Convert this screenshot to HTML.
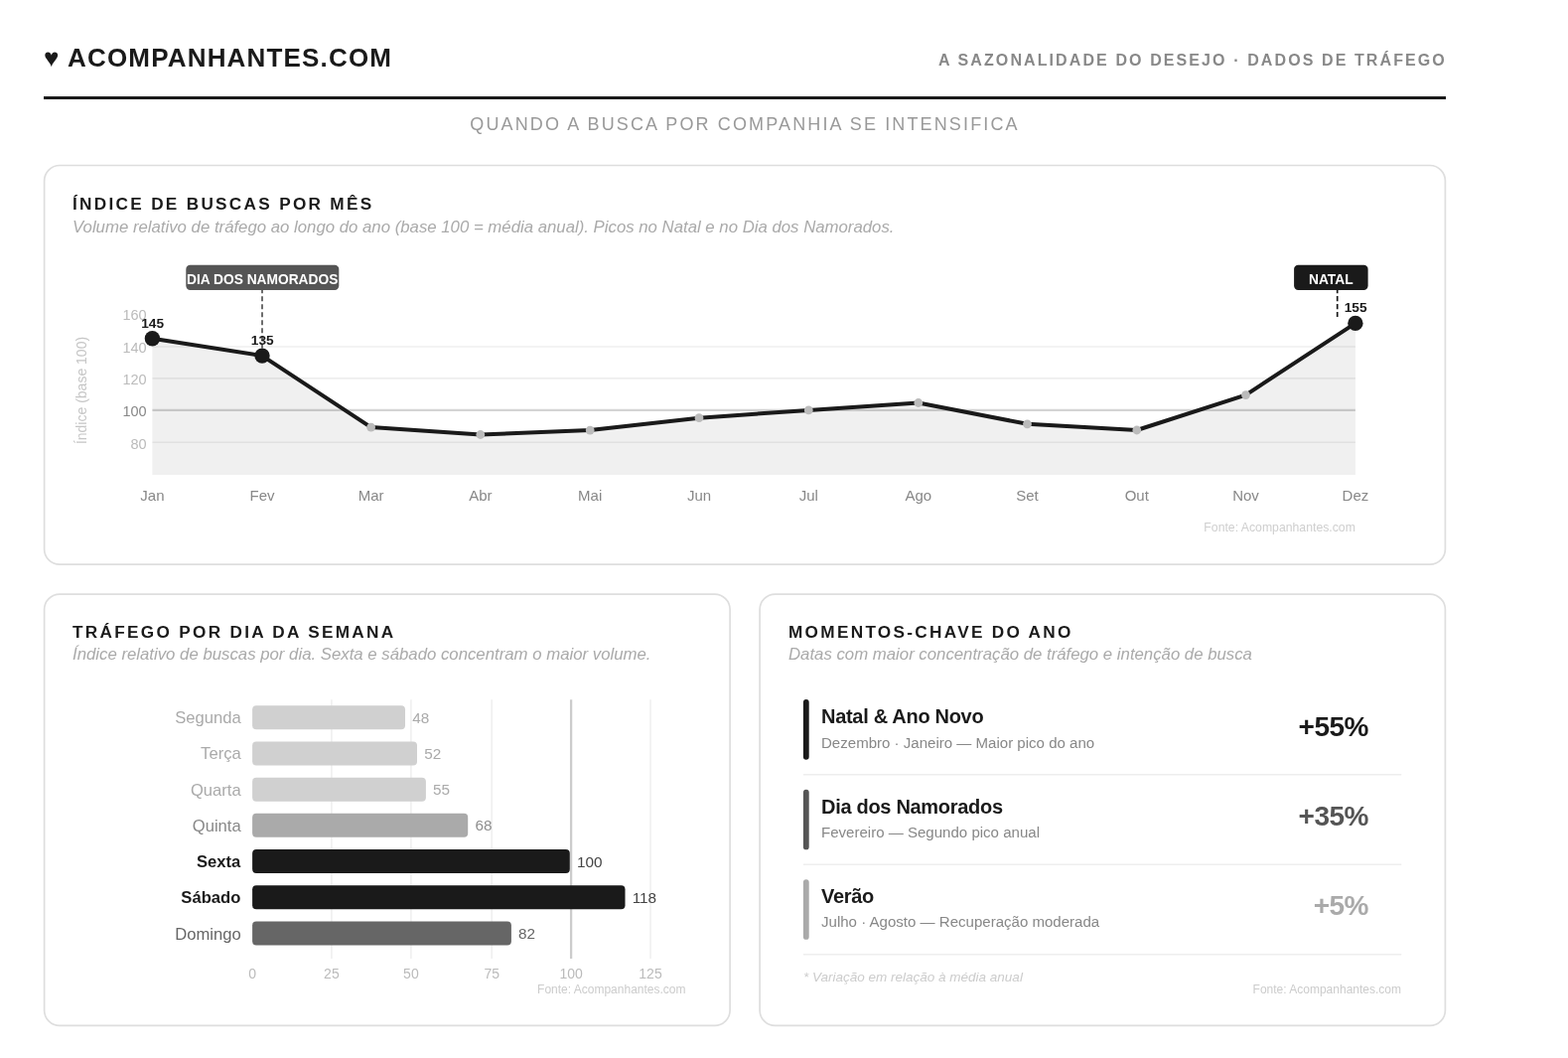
<!DOCTYPE html>
<html lang="pt-BR"><head><meta charset="utf-8"><title>A Sazonalidade do Desejo</title>
<style>
html,body{margin:0;padding:0;background:#fff;}
body{width:1579px;height:1065px;position:relative;overflow:hidden;font-family:"Liberation Sans",sans-serif;color:#1a1a1a;}
.abs{position:absolute;white-space:nowrap;line-height:1;}
.logo{left:44px;top:45.3px;font-size:26px;font-weight:700;letter-spacing:1.17px;}
.tag{right:122.1px;top:53px;font-size:16px;font-weight:700;letter-spacing:2.1px;color:#888;}
.rule{position:absolute;left:44px;top:97px;width:1412px;height:3px;background:#1a1a1a;}
.sub{left:44px;width:1412px;text-align:center;top:116.3px;font-size:18px;letter-spacing:2.13px;color:#999;}
.card{position:absolute;border:2px solid #e4e4e4;border-radius:16px;box-sizing:border-box;background:#fff;}
.h{font-size:17.2px;font-weight:700;letter-spacing:2.3px;color:#1a1a1a;}
.d{font-size:16.78px;font-style:italic;color:#aaa;}
.it{font-size:20px;font-weight:700;letter-spacing:-0.3px;}
.is{font-size:15.05px;color:#888;}
.iv{font-size:28px;font-weight:700;letter-spacing:-0.5px;}
.bar{position:absolute;left:809px;width:5px;height:61px;border-radius:3px;}
.sep{position:absolute;left:809px;width:602px;height:2px;background:#f0f0f0;}
svg text{font-family:"Liberation Sans",sans-serif;}
</style></head><body>
<div class="abs logo">♥ ACOMPANHANTES.COM</div>
<div class="abs tag">A SAZONALIDADE DO DESEJO · DADOS DE TRÁFEGO</div>
<div class="rule"></div>
<div class="abs sub">QUANDO A BUSCA POR COMPANHIA SE INTENSIFICA</div>
<svg width="1579" height="1065" viewBox="0 0 1579 1065" style="position:absolute;left:0;top:0">
<g fill="#fff" stroke="#dedede" stroke-width="1.7">
<rect x="44.6" y="166.5" width="1410.8" height="401.7" rx="15.5"/>
<rect x="44.6" y="598.1" width="690.5" height="434.3" rx="15.5"/>
<rect x="765.1" y="598.1" width="690.3" height="434.3" rx="15.5"/>
</g></svg>
<div class="abs h" style="left:73px;top:197.4px">ÍNDICE DE BUSCAS POR MÊS</div>
<div class="abs d" style="left:73px;top:220.6px">Volume relativo de tráfego ao longo do ano (base 100 = média anual). Picos no Natal e no Dia dos Namorados.</div>
<div class="abs h" style="left:73px;top:628px">TRÁFEGO POR DIA DA SEMANA</div>
<div class="abs d" style="left:73px;top:651px">Índice relativo de buscas por dia. Sexta e sábado concentram o maior volume.</div>
<div class="abs h" style="left:794px;top:628px">MOMENTOS-CHAVE DO ANO</div>
<div class="abs d" style="left:794px;top:651px">Datas com maior concentração de tráfego e intenção de busca</div>
<svg width="1579" height="1065" viewBox="0 0 1579 1065" style="position:absolute;left:0;top:0">
<polygon points="153.4,477.9 153.4,340.8 264.0,358.1 373.6,430.1 483.8,437.5 594.2,433.1 704.0,420.7 814.3,412.9 924.8,405.5 1034.5,426.8 1144.8,433.0 1254.5,397.6 1364.9,325.4 1364.9,477.9" fill="#f0f0f0"/>
<line x1="153.4" x2="1364.9" y1="445.2" y2="445.2" stroke="#000" stroke-opacity="0.065" stroke-width="1.6"/>
<line x1="153.4" x2="1364.9" y1="380.9" y2="380.9" stroke="#000" stroke-opacity="0.065" stroke-width="1.6"/>
<line x1="153.4" x2="1364.9" y1="349.0" y2="349.0" stroke="#000" stroke-opacity="0.065" stroke-width="1.6"/>
<line x1="153.4" x2="1364.9" y1="412.9" y2="412.9" stroke="#000" stroke-opacity="0.17" stroke-width="2.2"/>
<text x="147.7" y="451.8" text-anchor="end" font-size="14.5" fill="#bbb">80</text>
<text x="147.7" y="419.1" text-anchor="end" font-size="14.5" fill="#888">100</text>
<text x="147.7" y="386.9" text-anchor="end" font-size="14.5" fill="#bbb">120</text>
<text x="147.7" y="355.0" text-anchor="end" font-size="14.5" fill="#bbb">140</text>
<text x="147.7" y="322.1" text-anchor="end" font-size="14.5" fill="#bbb">160</text>
<text transform="translate(87,393) rotate(-90)" text-anchor="middle" font-size="14" fill="#c6c6c6">Índice (base 100)</text>
<line x1="264.0" x2="264.0" y1="290.2" y2="350.5" stroke="#555" stroke-width="1.7" stroke-dasharray="5 3"/>
<line x1="1346.7" x2="1346.7" y1="289.95" y2="319.1" stroke="#1a1a1a" stroke-width="1.7" stroke-dasharray="5.2 2.8"/>
<polyline points="153.4,340.8 264.0,358.1 373.6,430.1 483.8,437.5 594.2,433.1 704.0,420.7 814.3,412.9 924.8,405.5 1034.5,426.8 1144.8,433.0 1254.5,397.6 1364.9,325.4" fill="none" stroke="#1a1a1a" stroke-width="4" stroke-linejoin="round" stroke-linecap="round"/>
<circle cx="153.4" cy="340.8" r="7.7" fill="#1a1a1a"/>
<circle cx="264.0" cy="358.1" r="7.7" fill="#1a1a1a"/>
<circle cx="373.6" cy="430.1" r="4.4" fill="#bbb"/>
<circle cx="483.8" cy="437.5" r="4.4" fill="#bbb"/>
<circle cx="594.2" cy="433.1" r="4.4" fill="#bbb"/>
<circle cx="704.0" cy="420.7" r="4.4" fill="#bbb"/>
<circle cx="814.3" cy="412.9" r="4.4" fill="#bbb"/>
<circle cx="924.8" cy="405.5" r="4.4" fill="#bbb"/>
<circle cx="1034.5" cy="426.8" r="4.4" fill="#bbb"/>
<circle cx="1144.8" cy="433.0" r="4.4" fill="#bbb"/>
<circle cx="1254.5" cy="397.6" r="4.4" fill="#bbb"/>
<circle cx="1364.9" cy="325.4" r="7.7" fill="#1a1a1a"/>
<text x="153.6" y="329.5" text-anchor="middle" font-size="13.7" font-weight="700" fill="#1a1a1a">145</text>
<text x="264.2" y="346.8" text-anchor="middle" font-size="13.7" font-weight="700" fill="#1a1a1a">135</text>
<text x="1365.1" y="314.1" text-anchor="middle" font-size="13.7" font-weight="700" fill="#1a1a1a">155</text>
<text x="153.4" y="504" text-anchor="middle" font-size="15" fill="#888">Jan</text>
<text x="264.0" y="504" text-anchor="middle" font-size="15" fill="#888">Fev</text>
<text x="373.6" y="504" text-anchor="middle" font-size="15" fill="#888">Mar</text>
<text x="483.8" y="504" text-anchor="middle" font-size="15" fill="#888">Abr</text>
<text x="594.2" y="504" text-anchor="middle" font-size="15" fill="#888">Mai</text>
<text x="704.0" y="504" text-anchor="middle" font-size="15" fill="#888">Jun</text>
<text x="814.3" y="504" text-anchor="middle" font-size="15" fill="#888">Jul</text>
<text x="924.8" y="504" text-anchor="middle" font-size="15" fill="#888">Ago</text>
<text x="1034.5" y="504" text-anchor="middle" font-size="15" fill="#888">Set</text>
<text x="1144.8" y="504" text-anchor="middle" font-size="15" fill="#888">Out</text>
<text x="1254.5" y="504" text-anchor="middle" font-size="15" fill="#888">Nov</text>
<text x="1364.9" y="504" text-anchor="middle" font-size="15" fill="#888">Dez</text>
<rect x="187.3" y="266.8" width="154" height="25.1" rx="4.2" fill="#555"/>
<text x="264.2" y="285.9" text-anchor="middle" font-size="13.75" font-weight="700" fill="#fff">DIA DOS NAMORADOS</text>
<rect x="1303.1" y="266.8" width="74.5" height="25.1" rx="4.2" fill="#1a1a1a"/>
<text x="1340.3" y="285.9" text-anchor="middle" font-size="13.75" font-weight="700" fill="#fff">NATAL</text>
<text x="1364.9" y="535" text-anchor="end" font-size="12.25" fill="#cfcfcf">Fonte: Acompanhantes.com</text>
<line x1="333.9" x2="333.9" y1="704.3" y2="964.9" stroke="#000" stroke-opacity="0.065" stroke-width="1.5"/>
<line x1="413.9" x2="413.9" y1="704.3" y2="964.9" stroke="#000" stroke-opacity="0.065" stroke-width="1.5"/>
<line x1="495.2" x2="495.2" y1="704.3" y2="964.9" stroke="#000" stroke-opacity="0.065" stroke-width="1.5"/>
<line x1="655.0" x2="655.0" y1="704.3" y2="964.9" stroke="#000" stroke-opacity="0.065" stroke-width="1.5"/>
<line x1="575.1" x2="575.1" y1="704.3" y2="964.9" stroke="#000" stroke-opacity="0.2" stroke-width="2.3"/>
<rect x="254.1" y="710.25" width="153.9" height="24" rx="4" fill="#d0d0d0"/>
<text x="242.7" y="728.25" text-anchor="end" font-size="16.6" font-weight="400" fill="#aaa">Segunda</text>
<text x="415.2" y="727.85" font-size="15.3" fill="#aaa">48</text>
<rect x="254.1" y="746.45" width="165.9" height="24" rx="4" fill="#d0d0d0"/>
<text x="242.7" y="764.45" text-anchor="end" font-size="16.6" font-weight="400" fill="#aaa">Terça</text>
<text x="427.2" y="764.05" font-size="15.3" fill="#aaa">52</text>
<rect x="254.1" y="782.65" width="174.8" height="24" rx="4" fill="#d0d0d0"/>
<text x="242.7" y="800.65" text-anchor="end" font-size="16.6" font-weight="400" fill="#aaa">Quarta</text>
<text x="436.1" y="800.25" font-size="15.3" fill="#aaa">55</text>
<rect x="254.1" y="818.85" width="217.1" height="24" rx="4" fill="#aaaaaa"/>
<text x="242.7" y="836.85" text-anchor="end" font-size="16.6" font-weight="400" fill="#888">Quinta</text>
<text x="478.4" y="836.45" font-size="15.3" fill="#8e8e8e">68</text>
<rect x="254.1" y="855.05" width="319.7" height="24" rx="4" fill="#1a1a1a"/>
<text x="242.3" y="873.05" text-anchor="end" font-size="16.6" font-weight="700" fill="#1a1a1a">Sexta</text>
<text x="581.0" y="872.65" font-size="15.3" fill="#444">100</text>
<rect x="254.1" y="891.25" width="375.4" height="24" rx="4" fill="#1a1a1a"/>
<text x="242.3" y="909.25" text-anchor="end" font-size="16.6" font-weight="700" fill="#1a1a1a">Sábado</text>
<text x="636.7" y="908.85" font-size="15.3" fill="#444">118</text>
<rect x="254.1" y="927.45" width="260.8" height="24" rx="4" fill="#666"/>
<text x="242.7" y="946.05" text-anchor="end" font-size="16.6" font-weight="400" fill="#666">Domingo</text>
<text x="522.1" y="945.05" font-size="15.3" fill="#666">82</text>
<text x="254.1" y="984.6" text-anchor="middle" font-size="14" fill="#bbb">0</text>
<text x="333.9" y="984.6" text-anchor="middle" font-size="14" fill="#bbb">25</text>
<text x="413.9" y="984.6" text-anchor="middle" font-size="14" fill="#bbb">50</text>
<text x="495.2" y="984.6" text-anchor="middle" font-size="14" fill="#bbb">75</text>
<text x="575.1" y="984.6" text-anchor="middle" font-size="14" fill="#bbb">100</text>
<text x="655.0" y="984.6" text-anchor="middle" font-size="14" fill="#bbb">125</text>
<text x="690.5" y="1000" text-anchor="end" font-size="12" fill="#ccc">Fonte: Acompanhantes.com</text>
<text x="1411" y="1000" text-anchor="end" font-size="12" fill="#ccc">Fonte: Acompanhantes.com</text>
<rect x="808.9" y="704.1" width="5.8" height="60.6" rx="2.9" fill="#1a1a1a"/>
<rect x="808.9" y="794.7" width="5.8" height="60.6" rx="2.9" fill="#555"/>
<rect x="808.9" y="885.2" width="5.8" height="60.6" rx="2.9" fill="#aaa"/>
<line x1="808.9" x2="1411.3" y1="779.8" y2="779.8" stroke="#eeeeee" stroke-width="1.6"/>
<line x1="808.9" x2="1411.3" y1="870.2" y2="870.2" stroke="#eeeeee" stroke-width="1.6"/>
<line x1="808.9" x2="1411.3" y1="960.7" y2="960.7" stroke="#eeeeee" stroke-width="1.6"/>
</svg>
<div class="abs it" style="left:827px;top:711px">Natal &amp; Ano Novo</div>
<div class="abs is" style="left:827px;top:739.6px">Dezembro · Janeiro — Maior pico do ano</div>
<div class="abs iv" style="right:201px;top:718px;color:#1a1a1a">+55%</div>
<div class="abs it" style="left:827px;top:802px">Dia dos Namorados</div>
<div class="abs is" style="left:827px;top:829.6px">Fevereiro — Segundo pico anual</div>
<div class="abs iv" style="right:201px;top:808px;color:#555">+35%</div>
<div class="abs it" style="left:827px;top:892px">Verão</div>
<div class="abs is" style="left:827px;top:919.8px">Julho · Agosto — Recuperação moderada</div>
<div class="abs iv" style="right:201px;top:898px;color:#aaa">+5%</div>
<div class="abs" style="left:809px;top:976.5px;font-size:13.5px;font-style:italic;color:#ccc">* Variação em relação à média anual</div>
</body></html>
